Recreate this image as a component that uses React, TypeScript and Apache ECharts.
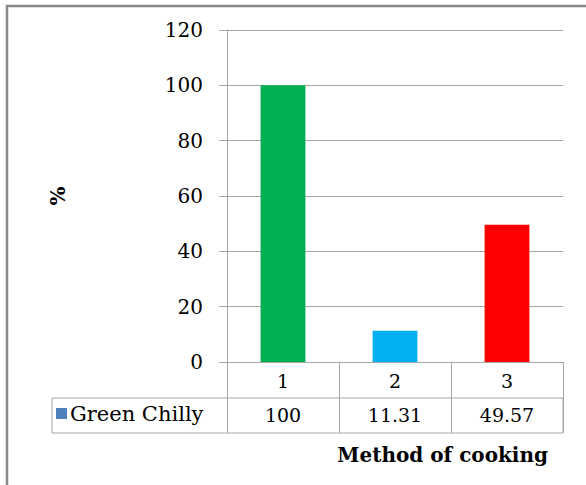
import React, { useEffect, useRef } from "react";
import * as echarts from "echarts";

const categories = ["1", "2", "3"];
const seriesName = "Green Chilly";
const values = [100, 11.31, 49.57];
const barColors = ["#00b050", "#00b0f0", "#ff0000"];
const yTicks = { min: 0, max: 120, interval: 20 };
const yAxisTitle = "%";
const xAxisTitle = "Method of cooking";

const FONT = "DejaVu Serif";
const GRID = "#a6a6a6";

export default function App() {
  const ref = useRef<HTMLDivElement>(null);
  useEffect(() => {
    if (!ref.current) return;
    const chart = echarts.init(ref.current, undefined, { renderer: "svg" });
    chart.setOption({
      animation: false,
      backgroundColor: "#ffffff",
      grid: { left: 227, right: 23, top: 30, bottom: 123, containLabel: false },
      xAxis: [
        {
          type: "category",
          data: categories,
          position: "bottom",
          axisLine: { show: true, lineStyle: { color: GRID, width: 1 } },
          axisTick: { show: true, alignWithLabel: false, length: 71, lineStyle: { color: GRID, width: 1 } },
          axisLabel: { color: "#000", fontFamily: FONT, fontSize: 19, margin: 9 },
        },
        {
          type: "category",
          data: values.map((v) => String(v)),
          position: "bottom",
          offset: 36,
          axisLine: { show: false },
          axisTick: { show: false },
          axisLabel: { color: "#000", fontFamily: FONT, fontSize: 19, margin: 7 },
        },
      ],
      yAxis: {
        type: "value",
        min: yTicks.min,
        max: yTicks.max,
        interval: yTicks.interval,
        name: yAxisTitle,
        nameLocation: "middle",
        nameRotate: 90,
        nameGap: 159,
        nameTextStyle: { color: "#000", fontFamily: FONT, fontSize: 20, fontWeight: "bold" },
        axisLine: { show: true, lineStyle: { color: GRID, width: 1 } },
        axisTick: { show: true, length: 8, lineStyle: { color: GRID, width: 1 } },
        axisLabel: { color: "#000", fontFamily: FONT, fontSize: 20, margin: 24 },
        splitLine: { show: true, lineStyle: { color: GRID, width: 1 } },
      },
      series: [
        {
          type: "bar",
          name: seriesName,
          xAxisIndex: 0,
          barWidth: "40%",
          data: values.map((v, i) => ({ value: v, itemStyle: { color: barColors[i] } })),
        },
      ],
      graphic: [
        {
          type: "rect",
          shape: { x: 7, y: 6, width: 700, height: 600 },
          style: { fill: "none", stroke: "#888888", lineWidth: 2.5 },
          silent: true,
        },
        {
          type: "rect",
          shape: { x: 52, y: 398, width: 511, height: 35 },
          style: { fill: "none", stroke: GRID, lineWidth: 1 },
          silent: true,
        },
        {
          type: "rect",
          shape: { x: 56, y: 408, width: 11, height: 11 },
          style: { fill: "#4f81bd" },
          silent: true,
        },
        {
          type: "text",
          x: 70,
          y: 414,
          style: {
            text: seriesName,
            fill: "#000",
            fontFamily: FONT,
            fontSize: 21,
            verticalAlign: "middle",
            align: "left",
          },
          silent: true,
        },
        {
          type: "text",
          x: 548,
          y: 455,
          style: {
            text: xAxisTitle,
            fill: "#000",
            fontFamily: FONT,
            fontSize: 20,
            fontWeight: "bold",
            verticalAlign: "middle",
            align: "right",
          },
          silent: true,
        },
      ],
    });
    return () => chart.dispose();
  }, []);
  return (
    <div
      ref={ref}
      style={{ position: "absolute", left: 0, top: 0, width: 586, height: 485 }}
    />
  );
}
